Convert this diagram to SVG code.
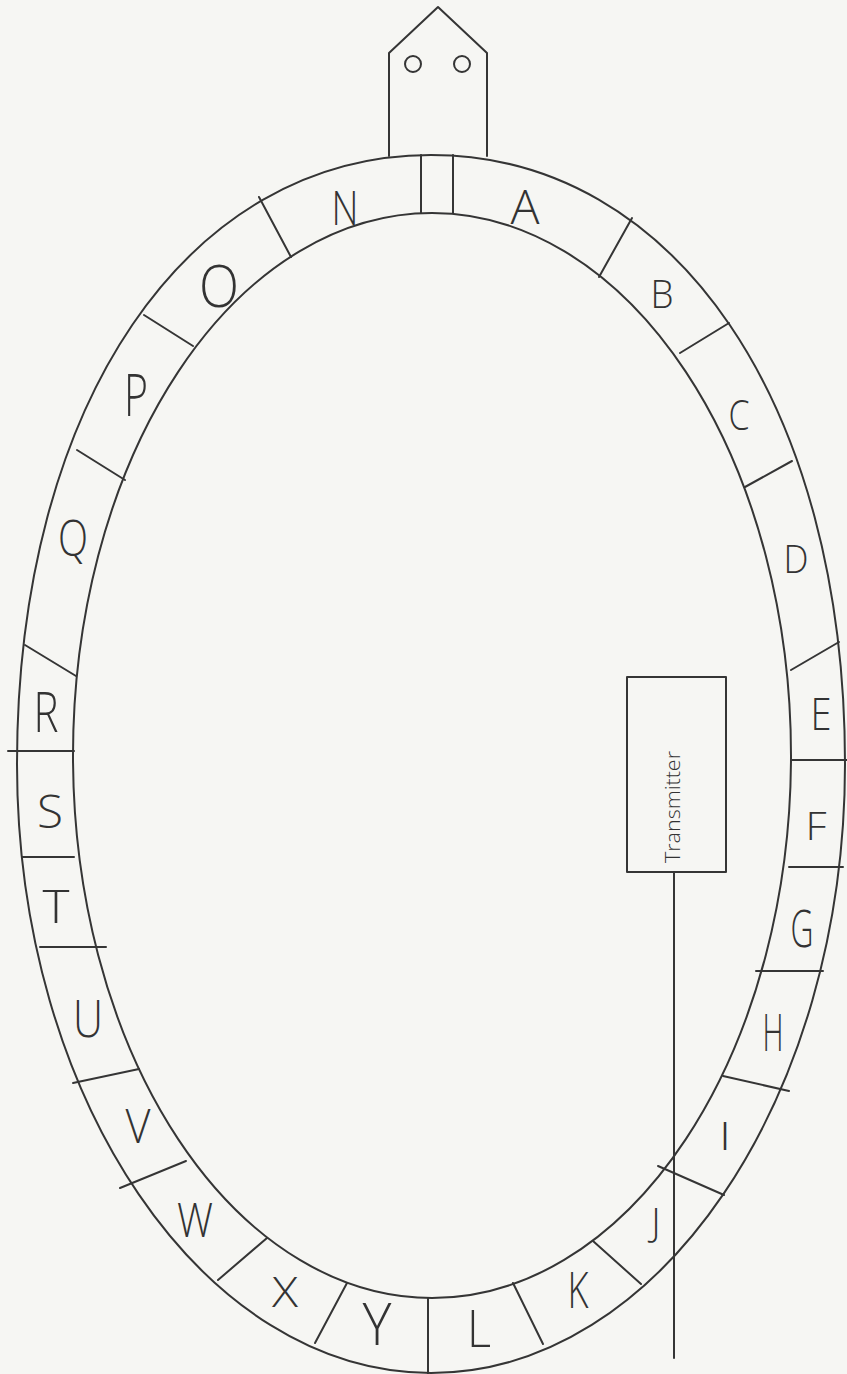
<svg xmlns="http://www.w3.org/2000/svg" width="847" height="1374" viewBox="0 0 847 1374">
<style>
.ln{fill:none;stroke:#353535;stroke-width:2;stroke-linecap:round;stroke-linejoin:round}
.lt{font-family:"Open Sans","Liberation Sans",sans-serif;font-weight:300;fill:#333;text-anchor:middle}
.tx{font-family:"Open Sans","Liberation Sans",sans-serif;font-weight:300;fill:#333;text-anchor:middle;font-size:20px}
</style>
<rect width="847" height="1374" fill="#f6f6f3"/>

<g id="ring">
  <path class="ln" d="M845,764 C845,404.7 675.3,155 431,155 C186.7,155 17,404.7 17,764 C17,1099 203.3,1373 431,1373 C658.7,1373 845,1099 845,764 Z"/>
  <ellipse class="ln" cx="432" cy="755.5" rx="359" ry="542.5"/>
</g>

<g id="dividers" class="ln">
  <line x1="421" y1="155" x2="421" y2="213"/>
  <line x1="453" y1="155" x2="453" y2="213"/>
  <line x1="259" y1="197" x2="291" y2="257"/>
  <line x1="144" y1="315" x2="193" y2="346"/>
  <line x1="77" y1="450" x2="125" y2="480"/>
  <line x1="25" y1="645" x2="76" y2="676"/>
  <line x1="8" y1="751" x2="74" y2="751"/>
  <line x1="22" y1="857" x2="74" y2="857"/>
  <line x1="40" y1="947" x2="106" y2="947"/>
  <line x1="73" y1="1083" x2="139" y2="1069"/>
  <line x1="120" y1="1188" x2="186" y2="1161"/>
  <line x1="218" y1="1280" x2="267" y2="1238"/>
  <line x1="315" y1="1343" x2="347" y2="1283"/>
  <line x1="428" y1="1374" x2="428" y2="1298"/>
  <line x1="543" y1="1344" x2="513" y2="1283"/>
  <line x1="641" y1="1284" x2="593" y2="1241"/>
  <line x1="724" y1="1195" x2="658" y2="1166"/>
  <line x1="789" y1="1091" x2="723" y2="1076"/>
  <line x1="823" y1="971" x2="756" y2="971"/>
  <line x1="843" y1="867" x2="789" y2="867"/>
  <line x1="847" y1="760" x2="791" y2="760"/>
  <line x1="839" y1="642" x2="791" y2="670"/>
  <line x1="792" y1="461" x2="745" y2="487"/>
  <line x1="729" y1="323" x2="680" y2="353"/>
  <line x1="632" y1="218" x2="599" y2="277"/>
</g>

<g id="pointer">
  <path class="ln" d="M389,156 V53 L438,7 L487,53 V156"/>
  <circle class="ln" cx="413" cy="64" r="8"/>
  <circle class="ln" cx="462" cy="64" r="8"/>
</g>

<g id="letters" class="lt">
  <g id="seg-N"><text x="345" y="225" font-size="47" textLength="27" lengthAdjust="spacingAndGlyphs">N</text></g>
  <g id="seg-A"><text x="525" y="224" font-size="47" textLength="29" lengthAdjust="spacingAndGlyphs">A</text></g>
  <g id="seg-O"><text x="219" y="307" font-size="58" textLength="40" lengthAdjust="spacingAndGlyphs">O</text></g>
  <g id="seg-B"><text x="662" y="308" font-size="39" textLength="23" lengthAdjust="spacingAndGlyphs">B</text></g>
  <g id="seg-P"><text x="136" y="416" font-size="58" textLength="24" lengthAdjust="spacingAndGlyphs">P</text></g>
  <g id="seg-C"><text x="739" y="430" font-size="42" textLength="21" lengthAdjust="spacingAndGlyphs">C</text></g>
  <g id="seg-Q"><text x="73" y="556" font-size="50" textLength="30" lengthAdjust="spacingAndGlyphs">Q</text></g>
  <g id="seg-D"><text x="796" y="573" font-size="39" textLength="25" lengthAdjust="spacingAndGlyphs">D</text></g>
  <g id="seg-R"><text x="46" y="732" font-size="55" textLength="25" lengthAdjust="spacingAndGlyphs">R</text></g>
  <g id="seg-E"><text x="821" y="730" font-size="44" textLength="21" lengthAdjust="spacingAndGlyphs">E</text></g>
  <g id="seg-S"><text x="50" y="828" font-size="46" textLength="26" lengthAdjust="spacingAndGlyphs">S</text></g>
  <g id="seg-F"><text x="816" y="840" font-size="39" textLength="21" lengthAdjust="spacingAndGlyphs">F</text></g>
  <g id="seg-T"><text x="56" y="923" font-size="46" textLength="27" lengthAdjust="spacingAndGlyphs">T</text></g>
  <g id="seg-G"><text x="802" y="947" font-size="52" textLength="23" lengthAdjust="spacingAndGlyphs">G</text></g>
  <g id="seg-U"><text x="88" y="1037" font-size="51" textLength="30" lengthAdjust="spacingAndGlyphs">U</text></g>
  <g id="seg-H"><text x="773" y="1051" font-size="52" textLength="21" lengthAdjust="spacingAndGlyphs">H</text></g>
  <g id="seg-V"><text x="138" y="1143" font-size="48" textLength="25" lengthAdjust="spacingAndGlyphs">V</text></g>
  <g id="seg-I"><text x="725" y="1150" font-size="39" textLength="12" lengthAdjust="spacingAndGlyphs">I</text></g>
  <g id="seg-W"><text x="195" y="1237" font-size="47" textLength="36" lengthAdjust="spacingAndGlyphs">W</text></g>
  <g id="seg-J"><text x="656" y="1236" font-size="38">J</text></g>
  <g id="seg-X"><text x="285" y="1307" font-size="42" textLength="26" lengthAdjust="spacingAndGlyphs">X</text></g>
  <g id="seg-K"><text x="578" y="1308" font-size="50" textLength="21" lengthAdjust="spacingAndGlyphs">K</text></g>
  <g id="seg-Y"><text x="377" y="1345" font-size="58" textLength="29" lengthAdjust="spacingAndGlyphs">Y</text></g>
  <g id="seg-L"><text x="479" y="1347" font-size="51" textLength="24" lengthAdjust="spacingAndGlyphs">L</text></g>
</g>

<g id="transmitter">
  <rect class="ln" x="627" y="677" width="99" height="195"/>
  <text class="tx" transform="translate(680,807) rotate(-90)" x="0" y="0" textLength="112" lengthAdjust="spacingAndGlyphs">Transmitter</text>
</g>

<g id="connectors">
  <line class="ln" x1="674" y1="872" x2="674" y2="1358"/>
</g>
</svg>
